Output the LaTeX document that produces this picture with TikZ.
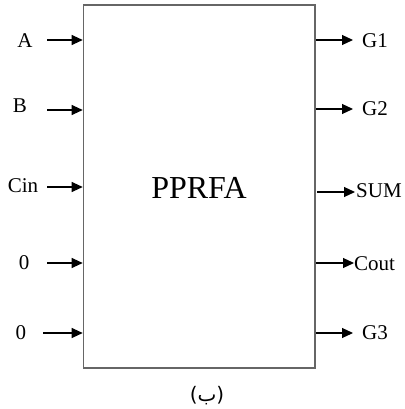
\documentclass[tikz,border=0pt]{standalone}
\usepackage{fontspec}
\setmainfont{Liberation Serif}
\newfontfamily\arabicfont[Script=Arabic]{DejaVu Sans}
\TeXXeTstate=1
\usetikzlibrary{arrows.meta}
\begin{document}
\begin{tikzpicture}[x=1pt,y=-1pt,
  lbl/.style={font=\fontsize{21}{23}\selectfont, inner sep=0pt},
  arr/.style={line width=1.1pt, -{Triangle[length=11pt,width=10pt]}},
  blk/.style={draw=black!60, line width=1.6pt, minimum width=231.5pt, minimum height=363pt, inner sep=0pt}]
\useasboundingbox (0,0) rectangle (404,409);
\node[blk] (box) at (199.25,186.5) {};
\node[font=\fontsize{32}{35}\selectfont, inner sep=0pt] (title) at (199,187.5) {PPRFA};
% inputs
\node[lbl] (A) at (25,41) {A};
\node[lbl] (B) at (20,106) {B};
\node[lbl] (Cin) at (23,186) {Cin};
\node[lbl] (Z1) at (24,263) {0};
\node[lbl] (Z2) at (21,333) {0};
\coordinate (sA) at (47,40);
\coordinate (sB) at (47,110);
\coordinate (sC) at (47,187);
\coordinate (s1) at (47,263);
\coordinate (s2) at (43,333);
\draw[arr] (sA) -- (sA -| box.west);
\draw[arr] (sB) -- (sB -| box.west);
\draw[arr] (sC) -- (sC -| box.west);
\draw[arr] (s1) -- (s1 -| box.west);
\draw[arr] (s2) -- (s2 -| box.west);
% outputs
\node[lbl, anchor=west] (G1) at (362,41) {G1};
\node[lbl, anchor=west] (G2) at (362,109) {G2};
\node[lbl, anchor=west] (SUM) at (356,191) {SUM};
\node[lbl, anchor=west] (Cout) at (354,264) {Cout};
\node[lbl, anchor=west] (G3) at (362,333) {G3};
\coordinate (eG1) at (353,40);
\coordinate (eG2) at (353,109);
\coordinate (eS) at (355,192);
\coordinate (eC) at (354,263);
\coordinate (eG3) at (353,333);
\draw[arr] (eG1 -| box.east) -- (eG1);
\draw[arr] (eG2 -| box.east) -- (eG2);
\draw[arr] ([xshift=1.5pt]eS -| box.east) -- (eS);
\draw[arr] (eC -| box.east) -- (eC);
\draw[arr] (eG3 -| box.east) -- (eG3);
% caption
\node[inner sep=0pt, font=\arabicfont\fontsize{20}{23}\selectfont] (cap) at (207,396) {\beginR(ب)\endR};
\end{tikzpicture}
\end{document}
